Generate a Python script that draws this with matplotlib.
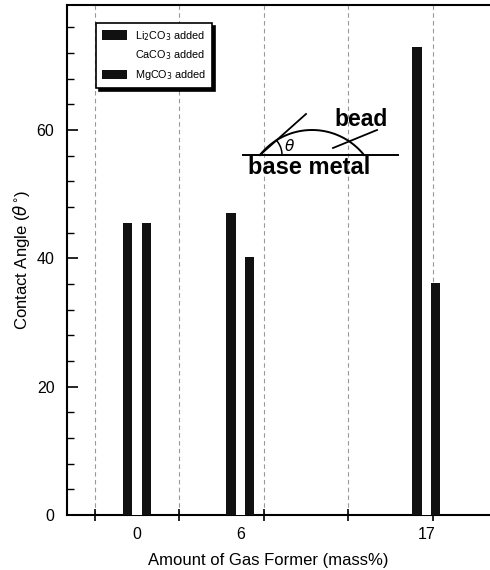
import matplotlib.pyplot as plt
import numpy as np
from matplotlib.patches import Patch

plt.rcParams['font.family'] = ['Liberation Sans', 'DejaVu Sans']

# data
groups = ['0', '6', '17']
li2co3 = [45.5, 47.0, 73.0]
caco3 = [44.0, 44.0, 42.0]   # drawn in white in the original, not visible
mgco3 = [45.5, 40.2, 36.2]
series_names = ['Li$_2$CO$_3$ added', 'CaCO$_3$ added', 'MgCO$_3$ added']

# layout
group_pos = np.array([0.50, 1.72, 3.92])
bar_w = 0.112

fig = plt.figure(figsize=(4.9, 5.7), dpi=100)
ax = fig.add_axes([0.1367, 0.0965, 0.873, 0.8947])

ax.bar(group_pos - bar_w, li2co3, bar_w, color='#111111', zorder=3)
ax.bar(group_pos, caco3, bar_w, color='white', zorder=3)
ax.bar(group_pos + bar_w, mgco3, bar_w, color='#111111', zorder=3)

ax.set_xlim(-0.33, 4.73)
ax.set_ylim(0, 79.5)

# x axis: group labels without marks, plain tick marks in between
ax.set_xticks(group_pos)
ax.set_xticklabels(groups, fontsize=11.5)
ax.tick_params(axis='x', which='major', length=0, pad=9)
ax.set_xticks(np.arange(0, 5), minor=True)
ax.tick_params(axis='x', which='minor', direction='inout', length=9, width=1.2)

ax.set_yticks([0, 20, 40, 60])
ax.set_yticks(np.arange(0, 80, 4), minor=True)
ax.tick_params(axis='y', which='major', direction='in', length=8, width=1.2,
               labelsize=11.5, pad=9)
ax.tick_params(axis='y', which='minor', direction='in', length=5, width=1.0)

for x in np.arange(0, 5):
    ax.axvline(x, color='0.6', lw=0.8, ls=(0, (4, 3)), zorder=1)

for s in ['left', 'bottom', 'top']:
    ax.spines[s].set_linewidth(1.5)
ax.spines['right'].set_visible(False)

ax.set_xlabel('Amount of Gas Former (mass%)', fontsize=12)
ax.xaxis.set_label_coords(0.47, -0.075)
ax.set_ylabel('Contact Angle ($\\theta^{\\circ}$)', fontsize=12, labelpad=3)

handles = [Patch(facecolor='#111111'), Patch(facecolor='white'),
           Patch(facecolor='#111111')]
leg = ax.legend(handles, series_names, loc='upper left',
                bbox_to_anchor=(0.068, 0.965), borderaxespad=0,
                fontsize=7.8, handlelength=2.3, handleheight=1.0,
                labelspacing=0.55, handletextpad=0.7, borderpad=0.55,
                fancybox=False, framealpha=1,
                shadow={'color': 'black', 'alpha': 1})
leg.get_frame().set_edgecolor('black')
leg.get_frame().set_linewidth(1.2)

# contact angle sketch (pixel-like coordinates of its own)
sk = fig.add_axes([240 / 490, 1 - 180 / 570, 160 / 490, 80 / 570])
sk.set_xlim(240, 400)
sk.set_ylim(180, 100)
sk.axis('off')
sk.plot([243, 398], [155, 155], color='black', lw=1.4)
half, sag = 52, 25
R = (half ** 2 + sag ** 2) / (2 * sag)
cx, cy = 312, 155 + (R - sag)
t0 = np.arcsin(half / R)
t = np.linspace(-t0, t0, 100)
sk.plot(cx + R * np.sin(t), cy - R * np.cos(t), color='black', lw=1.4)
sk.plot([260, 306], [155, 114], color='black', lw=1.3)
a = np.linspace(0, np.radians(42), 30)
sk.plot(260 + 22 * np.cos(a), 155 - 22 * np.sin(a), color='black', lw=1.1)
sk.text(290, 146, '$\\theta$', fontsize=11, ha='center', va='center')
sk.plot([333, 377], [148, 130], color='black', lw=1.3)
sk.text(361, 120, 'bead', fontsize=16.5, fontweight='bold', ha='center', va='center')
sk.text(309, 168, 'base metal', fontsize=17, fontweight='bold', ha='center', va='center')

fig.savefig('out.png', dpi=100)
